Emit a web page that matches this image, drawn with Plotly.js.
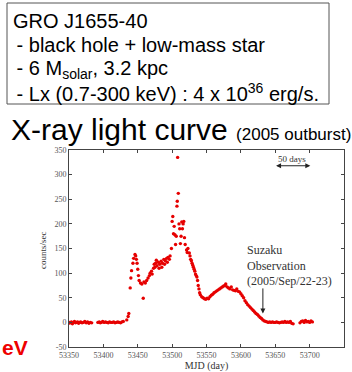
<!DOCTYPE html>
<html>
<head>
<meta charset="utf-8">
<script src="https://cdn.plot.ly/plotly-3.0.1.min.js"></script>
<style>html,body{margin:0;padding:0;background:#fff;}#chart{width:352px;height:372px;}</style>
</head>
<body>
<div id="chart"></div>
<script>
// Light curve of GRO J1655-40 (2005 outburst)
var mjd = [
  53349,53350.5,53352,53353.5,53355,53356.5,53358,53359.5,53361,53362.5,53364,53365.5,53367,53369,53371,53373,53375,53377,53379,53381,53383,
  53392,53394,53395.5,53397,53399,53401,53403,53405,53407,53409,53411,53413,53415,53417,53419,53421,53423,53425,53427,53429,
  53434,53436,53437,53439,53440,53441,53443,53444,53446,53447,53448,53449,53450,53451,53452,53454,53456,53458,53459,53461,53463,53465,53467,53468,53470,53471,53473,53474,53475,53476,53477,53478,53480,53481,53482,53484,53485,53486,53488,53489,53490,53492,53493,53494,53496,53497,53499,
  53500,53501,53502,53503,53504,53505,53506,53507,53507.5,53508,53509,53510,53511,53512,53513,53514,53515,53516,53517,53518,53519,53521,53522,53523,53525,53526,53527,53528,53529,53530,53531,53532,53533,53534,53535,53536,53537,53538,53539,53540,53541,53543,53545,53547,53549,53551,53553,53555,53557,53559,53561,53563,53565,53567,53569,53571,53573,53575,53577,53578,53580,53582,53584,53586,53588,53590,53592,53594,53596,53598,53600,53602,53604,53606,53608,53610,53612,53614,53616,53618,53620,53622,53624,53626,53628,53630,53632,53634,53636,53638,53640,53642,53644,53646,53648,53650,53652,53654,53656,53658,53660,53662,53664,53666,53668,53670,53672,53674,53676,
  53686,53688,53690,53692,53694,53696,53698,53700,53702,53704
];
var rate = [
  -2,0,-1,1,-3,0,2,-1,0,1,-2,0,1,-1,0,2,-1,1,-2,0,-1,
  0,1,-1,0,2,0,1,0,-1,1,0,0,1,-1,0,1,0,-1,1,2,
  5,12,18,70,90,105,120,130,138,135,128,120,108,95,85,80,78,49,82,80,85,90,95,100,104,98,110,118,112,120,126,115,122,110,118,124,112,120,128,118,125,130,122,132,128,135,150,
  205,215,180,195,178,158,175,236,246,335,262,200,190,160,175,204,190,200,205,172,158,147,142,150,141,135,128,125,120,116,112,108,104,98,95,92,85,75,68,60,56,52,50,48,47,49,48,52,55,57,60,62,64,66,68,70,72,74,75,78,72,70,68,72,66,65,64,68,63,62,58,54,50,44,40,36,33,30,27,24,21,18,16,13,10,8,5,3,2,1,0,1,0,1,0,0,1,0,-1,0,1,0,2,0,1,0,2,-2,-3,
  -1,2,3,0,4,1,2,0,3,1
];
var xTickVals = [53350,53400,53450,53500,53550,53600,53650,53700,53750];
var xTickText = ['53350','53400','53450','53500','53550','53600','53650','53700','53750'];
var yTickVals = [-50,0,50,100,150,200,250,300,350];
var yTickText = ['-50','0','50','100','150','200','250','300','350'];
var infoLines = ['GRO J1655-40', ' - black hole + low-mass star', ' - 6 M<sub>solar</sub>, 3.2 kpc', ' - Lx (0.7-300 keV) : 4 x 10<sup>36</sup> erg/s.'];

var serif = 'Liberation Serif, Times New Roman, serif';
var sans = 'Liberation Sans, Arial, sans-serif';

var trace = {
  x: mjd, y: rate, type: 'scatter', mode: 'markers',
  marker: {color: '#e60000', size: 3.4},
  hoverinfo: 'skip', showlegend: false
};

// plot area: x 69..344, y 150..347
function px2paperX(p){ return (p-69)/275; }
function px2paperY(p){ return (347-p)/197; }

var annotations = [];
var lineY = [21, 45, 69, 92];
for (var i=0;i<infoLines.length;i++){
  annotations.push({xref:'paper', yref:'paper', x: px2paperX(i===0?11:9), y: px2paperY(lineY[i]),
    xanchor:'left', yanchor:'middle', showarrow:false, align:'left',
    text: infoLines[i], font:{family:sans, size:20, color:'#000'}});
}
annotations.push({xref:'paper', yref:'paper', x: px2paperX(9), y: px2paperY(130),
  xanchor:'left', yanchor:'middle', showarrow:false,
  text: 'X-ray light curve <span style="font-size:17px">(2005 outburst)</span>',
  font:{family:sans, size:30, color:'#000'}});
annotations.push({xref:'x', yref:'y', x:53675, y:332, showarrow:false,
  text:'50 days', font:{family:serif, size:9, color:'#333'}});
annotations.push({xref:'x', yref:'y', axref:'x', ayref:'y', x:53701, y:318, ax:53649, ay:318,
  text:'', showarrow:true, arrowhead:2, arrowside:'end+start', arrowsize:1, arrowwidth:1, arrowcolor:'#222'});
annotations.push({xref:'x', yref:'y', x:53606, y:116, xanchor:'left', yanchor:'middle', showarrow:false, align:'left',
  text:'Suzaku<br>Observation<br>(2005/Sep/22-23)', font:{family:serif, size:12, color:'#333'}});
annotations.push({xref:'x', yref:'y', axref:'x', ayref:'y', x:53632, y:18, ax:53632, ay:72,
  text:'', showarrow:true, arrowhead:2, arrowsize:1, arrowwidth:1, arrowcolor:'#222'});
annotations.push({xref:'paper', yref:'paper', x: px2paperX(0), y: px2paperY(347), xanchor:'left', yanchor:'middle',
  showarrow:false, text:'<b>eV</b>', font:{family:sans, size:21, color:'#ee0000'}});
annotations.push({xref:'paper', yref:'paper', x: px2paperX(43), y: px2paperY(250), xanchor:'center', yanchor:'middle',
  showarrow:false, textangle:-90, text:'counts/sec', font:{family:serif, size:9, color:'#333'}});

var layout = {
  width:352, height:372,
  margin:{l:69, r:8, t:150, b:25},
  paper_bgcolor:'#fff', plot_bgcolor:'#fff',
  showlegend:false,
  xaxis:{range:[53350,53750], tickvals:xTickVals, ticktext:xTickText,
    showline:true, linecolor:'#444', linewidth:1, mirror:'ticks', ticks:'inside', ticklen:3, tickcolor:'#444',
    showgrid:false, zeroline:false, tickfont:{family:serif, size:8, color:'#555'},
    title:{text:'MJD (day)', font:{family:serif, size:10, color:'#333'}, standoff:2}},
  yaxis:{range:[-50,350], tickvals:yTickVals, ticktext:yTickText,
    showline:true, linecolor:'#444', linewidth:1, mirror:'ticks', ticks:'inside', ticklen:3, tickcolor:'#444',
    showgrid:false, zeroline:false, tickfont:{family:serif, size:8, color:'#555'}},
  shapes:[{type:'rect', xref:'paper', yref:'paper', x0:px2paperX(7), x1:px2paperX(329), y0:px2paperY(104), y1:px2paperY(3),
    line:{color:'#555', width:1}, fillcolor:'rgba(0,0,0,0)'}],
  annotations: annotations
};

Plotly.newPlot('chart', [trace], layout, {staticPlot:true, displayModeBar:false});
</script>
</body>
</html>
